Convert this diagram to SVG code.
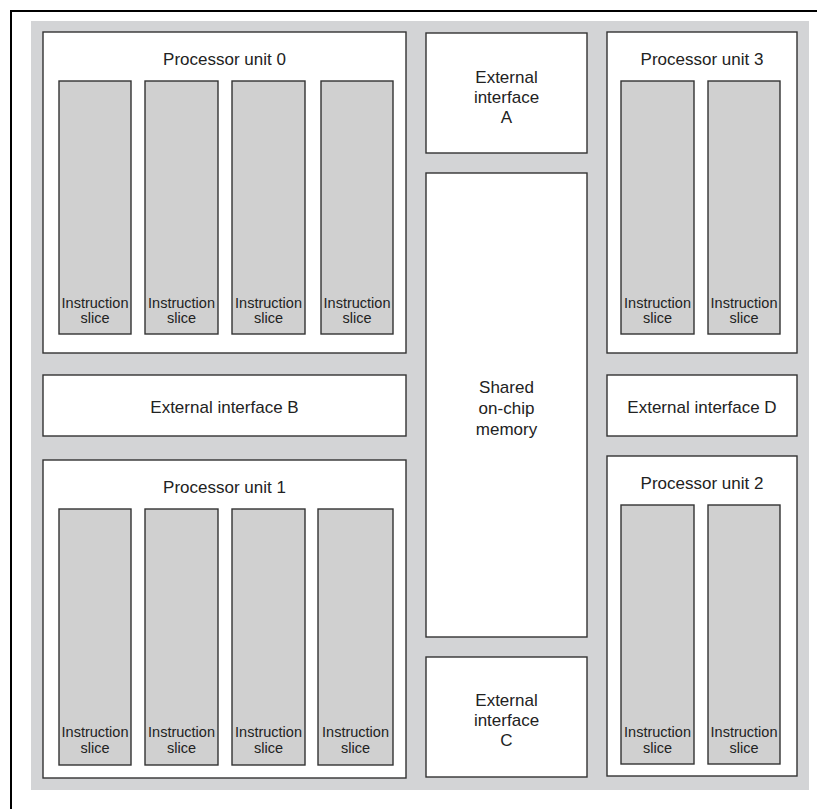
<svg xmlns="http://www.w3.org/2000/svg" width="817" height="809" viewBox="0 0 817 809">
  <style>
    .frame { fill: none; stroke: #000; stroke-width: 2; }
    .die { fill: #d3d4d6; stroke: none; }
    .box { fill: #fff; stroke: #333; stroke-width: 1.4; }
    .slice { fill: #d0d0d0; stroke: #333; stroke-width: 1.4; }
    .title { font-family: "Liberation Sans", Arial, sans-serif; font-size: 17px; fill: #222; text-anchor: middle; }
    .label { font-family: "Liberation Sans", Arial, sans-serif; font-size: 14.5px; fill: #222; text-anchor: middle; }
  </style>

  <!-- outer frame and chip die -->
  <rect class="frame" x="11" y="11" width="820" height="820"/>
  <rect class="die" x="31" y="21" width="778" height="769"/>

  <!-- Processor unit 0 -->
  <g id="pu0">
    <rect class="box" x="43" y="32" width="363" height="321"/>
    <text class="title" x="224.5" y="65">Processor unit 0</text>
    <rect class="slice" x="59" y="81" width="72" height="253"/>
    <rect class="slice" x="145" y="81" width="73" height="253"/>
    <rect class="slice" x="232" y="81" width="73" height="253"/>
    <rect class="slice" x="321" y="81" width="72" height="253"/>
    <text class="label" x="95" y="308">Instruction</text><text class="label" x="95" y="323">slice</text>
    <text class="label" x="181.5" y="308">Instruction</text><text class="label" x="181.5" y="323">slice</text>
    <text class="label" x="268.5" y="308">Instruction</text><text class="label" x="268.5" y="323">slice</text>
    <text class="label" x="357" y="308">Instruction</text><text class="label" x="357" y="323">slice</text>
  </g>

  <!-- External interface A -->
  <g id="ext-a">
    <rect class="box" x="426" y="33" width="161" height="120"/>
    <text class="title" x="506.5" y="83">External</text>
    <text class="title" x="506.5" y="103">interface</text>
    <text class="title" x="506.5" y="123">A</text>
  </g>

  <!-- Processor unit 3 -->
  <g id="pu3">
    <rect class="box" x="607" y="32" width="190" height="321"/>
    <text class="title" x="702" y="65">Processor unit 3</text>
    <rect class="slice" x="621" y="81" width="73" height="253"/>
    <rect class="slice" x="708" y="81" width="72" height="253"/>
    <text class="label" x="657.5" y="308">Instruction</text><text class="label" x="657.5" y="323">slice</text>
    <text class="label" x="744" y="308">Instruction</text><text class="label" x="744" y="323">slice</text>
  </g>

  <!-- External interface B -->
  <g id="ext-b">
    <rect class="box" x="43" y="375" width="363" height="61"/>
    <text class="title" x="224.5" y="413">External interface B</text>
  </g>

  <!-- Shared on-chip memory -->
  <g id="memory">
    <rect class="box" x="426" y="173" width="161" height="464"/>
    <text class="title" x="506.5" y="393">Shared</text>
    <text class="title" x="506.5" y="414">on-chip</text>
    <text class="title" x="506.5" y="435">memory</text>
  </g>

  <!-- External interface D -->
  <g id="ext-d">
    <rect class="box" x="607" y="375" width="190" height="61"/>
    <text class="title" x="702" y="413">External interface D</text>
  </g>

  <!-- Processor unit 1 -->
  <g id="pu1">
    <rect class="box" x="43" y="460" width="363" height="318"/>
    <text class="title" x="224.5" y="493">Processor unit 1</text>
    <rect class="slice" x="59" y="509" width="72" height="256"/>
    <rect class="slice" x="145" y="509" width="73" height="256"/>
    <rect class="slice" x="232" y="509" width="73" height="256"/>
    <rect class="slice" x="318" y="509" width="75" height="256"/>
    <text class="label" x="95" y="737">Instruction</text><text class="label" x="95" y="753">slice</text>
    <text class="label" x="181.5" y="737">Instruction</text><text class="label" x="181.5" y="753">slice</text>
    <text class="label" x="268.5" y="737">Instruction</text><text class="label" x="268.5" y="753">slice</text>
    <text class="label" x="355.5" y="737">Instruction</text><text class="label" x="355.5" y="753">slice</text>
  </g>

  <!-- External interface C -->
  <g id="ext-c">
    <rect class="box" x="426" y="657" width="161" height="120"/>
    <text class="title" x="506.5" y="706">External</text>
    <text class="title" x="506.5" y="726">interface</text>
    <text class="title" x="506.5" y="746">C</text>
  </g>

  <!-- Processor unit 2 -->
  <g id="pu2">
    <rect class="box" x="607" y="456" width="190" height="320"/>
    <text class="title" x="702" y="489">Processor unit 2</text>
    <rect class="slice" x="621" y="505" width="73" height="259"/>
    <rect class="slice" x="708" y="505" width="72" height="259"/>
    <text class="label" x="657.5" y="737">Instruction</text><text class="label" x="657.5" y="753">slice</text>
    <text class="label" x="744" y="737">Instruction</text><text class="label" x="744" y="753">slice</text>
  </g>

  <!-- no connectors in this floorplan -->
  <g id="connectors"/>
</svg>
